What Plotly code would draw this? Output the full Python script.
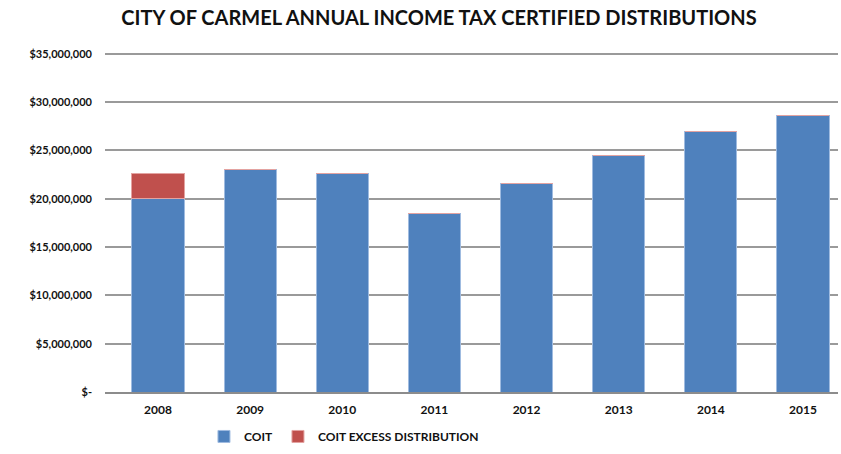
import plotly.graph_objects as go

years = ["2008", "2009", "2010", "2011", "2012", "2013", "2014", "2015"]
coit = [20.0e6, 23.0e6, 22.6e6, 18.45e6, 21.6e6, 24.5e6, 26.95e6, 28.65e6]
coit_excess = [2.6e6, 0, 0, 0, 0, 0, 0, 0]
y_tickvals = [0, 5e6, 10e6, 15e6, 20e6, 25e6, 30e6, 35e6]
y_ticktext = ["$-", "$5,000,000", "$10,000,000", "$15,000,000", "$20,000,000",
              "$25,000,000", "$30,000,000", "$35,000,000"]

BLUE = "#4F81BD"
RED = "#C0504D"
FONT = "Lato, Liberation Sans Narrow, sans-serif"

fig = go.Figure()
fig.add_trace(go.Bar(x=years, y=coit, name="COIT",
                     marker=dict(color=BLUE, line=dict(color="#9fbbe0", width=1))))
fig.add_trace(go.Bar(x=years, y=coit_excess, name="COIT EXCESS DISTRIBUTION",
                     marker=dict(color=RED, line=dict(color="#e3a3a1", width=1))))

fig.update_layout(
    barmode="stack",
    bargap=0.435,
    width=841, height=454,
    margin=dict(l=105, r=3, t=50, b=60),
    paper_bgcolor="white", plot_bgcolor="white",
    font=dict(family=FONT, color="#1a1a1a"),
    title=dict(text="CITY OF CARMEL ANNUAL INCOME TAX CERTIFIED DISTRIBUTIONS",
               x=0.522, xanchor="center", y=0.96, yanchor="middle",
               font=dict(family=FONT, size=20, color="#111111", weight="bold")),
    showlegend=True,
    legend=dict(orientation="h", x=0.135, xanchor="left", y=-0.13, yanchor="middle",
                font=dict(family=FONT, size=12, color="#111111", weight="bold"),
                traceorder="normal", itemwidth=30),
    xaxis=dict(showgrid=False, showline=True, linecolor="#8c8c8c", linewidth=2,
               ticks="", tickfont=dict(family=FONT, size=12, color="#111111", weight="bold"),
               ticklabelstandoff=6, range=[-0.575, 7.38]),
    yaxis=dict(range=[0, 35.4e6], tickvals=y_tickvals, ticktext=y_ticktext,
               showgrid=True, gridcolor="#9a9a9a", gridwidth=2,
               zeroline=False, showline=False,
               tickfont=dict(family=FONT, size=11, color="#111111", weight="bold"),
               ticklabelstandoff=12),
)

fig.write_html("out.html")
